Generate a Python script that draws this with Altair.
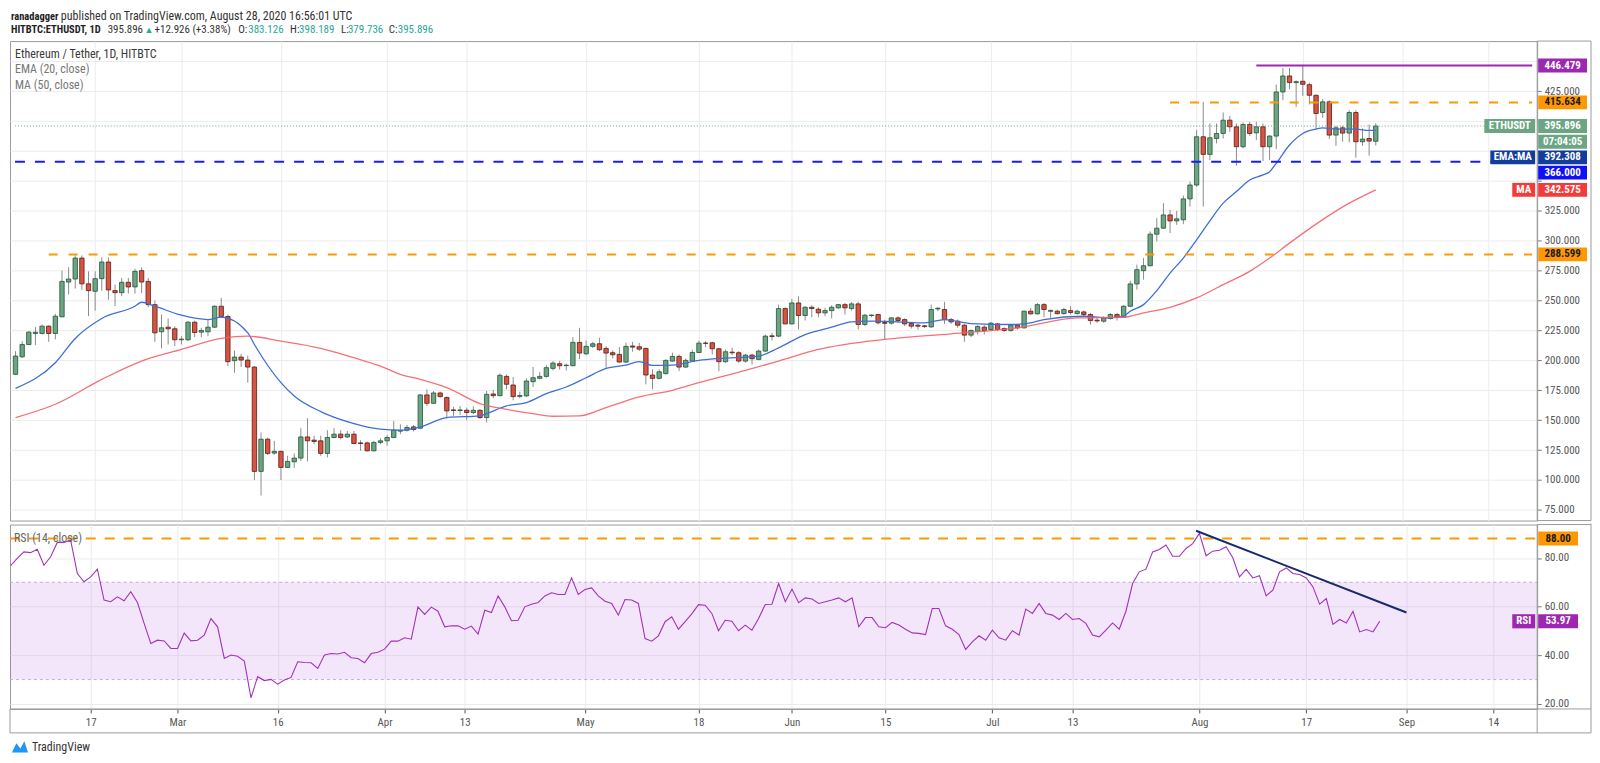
import altair as alt
import pandas as pd

FONT = "Liberation Sans Narrow, Roboto Condensed, Arial Narrow, Roboto, sans-serif"

# ---------------- data ----------------
first_day = "2020-02-05"

opens = [
    188.3, 203.0, 213.3, 222.5, 222.5, 228.6, 222.5, 236.4, 265.5, 268.0, 285.5, 264.0, 257.75, 268.3, 282.2, 258.3, 256.6, 265.25, 261.4, 275.0, 266.0, 246.6, 223.9, 227.75, 226.4,
    217.2, 217.2, 231.9, 223.6, 223.9, 227.75, 245.25, 236.6, 199.7, 202.75, 200.25, 194.4, 107.2, 134.1, 122.5, 123.9, 110.5, 115.25, 118.3, 136.0, 133.3, 132.75, 122.2, 135.5, 138.3, 136.0, 138.3, 131.0, 131.0, 124.4, 131.4,
    132.75, 135.5, 140.8, 141.6, 144.4, 143.3, 171.1, 164.1, 172.75, 168.9, 158.6, 158.1, 158.3, 156.4, 158.3, 152.2, 171.9, 170.5, 186.6, 179.4, 169.9, 170.3, 182.2, 185.0, 186.6, 193.3, 197.2, 195.6, 195.5, 215.0,
    205.5, 211.7, 213.9, 210.0, 206.4, 205.0, 198.6, 212.0, 211.4, 210.0, 187.75, 185.0, 188.9, 199.4, 203.3, 194.4, 199.4, 206.6, 214.5, 214.7, 209.7, 198.9, 206.9, 206.4, 199.4, 204.4, 200.8, 207.75, 220.5, 220.25, 243.3,
    230.5, 248.0, 237.5, 244.4, 242.75, 239.7, 241.6, 243.9, 246.6, 243.3, 247.2, 230.0, 237.5, 238.3, 231.6, 231.1, 235.5, 234.1, 230.8, 229.4, 228.9, 228.0, 243.0, 242.5, 234.1, 232.75, 229.4, 221.1, 224.4, 227.75,
    225.8, 230.5, 226.6, 225.0, 229.4, 227.2, 241.1, 238.9, 246.6, 241.0, 241.1, 239.1, 241.6, 239.1, 240.5, 238.3, 233.6, 232.75, 235.0, 238.3, 236.1, 245.25, 263.9, 275.0, 279.1, 305.5, 310.5, 321.6, 316.6, 317.5, 335.0,
    346.6, 386.9, 372.2, 385.5, 389.7, 400.8, 395.25, 378.6, 397.2, 390.25, 395.25, 378.6, 387.5, 424.4, 437.75, 432.2, 433.3, 430.5, 421.6, 407.2, 416.1, 388.3, 394.4, 390.0, 407.2, 382.75, 385.5, 383.126,
]
highs = [
    207.7, 216.0, 224.4, 227.8, 230.0, 229.4, 238.9, 275.0, 277.8, 287.75, 287.75, 274.4, 274.4, 286.0, 286.0, 263.3, 268.9, 268.9, 276.6, 277.75, 268.9, 250.0, 238.3, 235.0, 228.6,
    220.25, 232.75, 233.3, 227.2, 234.0, 246.0, 252.2, 238.3, 208.3, 205.5, 204.1, 195.25, 139.7, 135.5, 132.75, 124.4, 120.25, 122.2, 143.3, 151.6, 137.0, 137.0, 141.6, 143.3, 141.6, 141.0, 141.0, 133.3, 132.2, 132.75, 135.0,
    137.75, 149.4, 146.6, 146.0, 146.0, 171.6, 175.8, 174.4, 173.9, 170.0, 161.1, 161.9, 160.5, 161.6, 159.1, 174.4, 175.25, 189.1, 188.3, 186.1, 173.9, 185.0, 194.4, 190.3, 196.1, 199.4, 199.4, 197.2, 219.4, 227.2,
    216.6, 215.5, 218.9, 211.9, 208.3, 211.1, 214.7, 215.5, 214.7, 210.5, 192.5, 192.5, 200.8, 206.4, 205.0, 201.6, 208.9, 216.6, 216.1, 215.5, 210.5, 209.0, 210.5, 207.75, 205.5, 205.5, 209.1, 221.6, 223.0, 246.6, 244.4,
    251.4, 253.6, 245.25, 246.1, 244.4, 243.9, 246.1, 247.2, 248.0, 248.9, 248.9, 238.9, 238.3, 238.9, 234.0, 236.1, 236.9, 235.0, 231.4, 230.5, 229.6, 246.6, 244.4, 248.9, 235.5, 234.1, 230.5, 225.8, 229.4, 229.4,
    232.2, 231.4, 227.7, 230.5, 230.5, 241.6, 243.9, 248.0, 248.0, 242.5, 242.5, 243.9, 245.25, 242.5, 241.6, 239.7, 235.5, 236.9, 239.7, 239.7, 246.1, 266.6, 280.0, 285.5, 307.75, 318.9, 331.4, 325.8, 325.0, 337.75, 349.4,
    392.5, 416.1, 398.0, 398.0, 407.2, 404.4, 398.0, 398.9, 399.4, 399.4, 398.0, 388.3, 430.5, 444.4, 444.4, 434.1, 446.479, 432.2, 422.2, 418.3, 417.5, 396.1, 396.1, 409.1, 409.1, 393.9, 397.2, 398.189,
]
lows = [
    187.7, 202.0, 212.7, 212.7, 221.6, 215.5, 217.5, 236.0, 255.0, 260.0, 259.0, 237.0, 241.6, 258.3, 250.8, 245.3, 253.6, 255.8, 255.8, 256.4, 244.4, 215.5, 210.0, 213.3, 212.0,
    213.3, 216.0, 219.4, 219.4, 220.25, 227.2, 235.5, 195.25, 189.7, 194.4, 181.4, 100.0, 87.0, 121.0, 121.0, 100.0, 110.0, 110.0, 116.0, 115.5, 130.0, 120.25, 118.9, 135.0, 134.0, 135.0, 130.0, 124.4, 123.9, 123.9, 130.0,
    128.6, 135.0, 138.3, 140.5, 140.5, 142.8, 161.9, 163.9, 168.9, 151.6, 153.6, 154.4, 150.0, 155.0, 151.1, 148.0, 168.3, 170.0, 175.8, 166.6, 168.3, 169.4, 177.75, 184.1, 185.5, 191.6, 192.2, 191.6, 195.3, 201.1,
    204.4, 210.5, 207.75, 193.9, 201.6, 198.0, 197.75, 207.2, 207.75, 180.0, 175.8, 184.1, 188.3, 198.9, 191.1, 193.9, 198.9, 206.1, 211.0, 205.0, 191.0, 198.0, 204.4, 198.0, 198.0, 196.6, 200.0, 207.2, 216.6, 219.4, 230.0,
    230.0, 225.8, 233.3, 236.1, 236.1, 236.9, 235.0, 243.3, 238.3, 241.6, 225.8, 228.6, 236.1, 230.0, 217.5, 230.0, 231.4, 228.6, 226.6, 225.8, 227.0, 227.2, 241.1, 230.5, 230.5, 227.2, 215.5, 219.4, 221.6, 221.6,
    225.0, 224.4, 223.9, 223.9, 225.8, 226.6, 238.3, 238.3, 236.1, 235.5, 238.3, 238.3, 238.3, 238.3, 236.9, 230.0, 231.4, 231.4, 234.1, 233.3, 235.5, 244.4, 259.1, 267.5, 278.6, 299.4, 310.0, 306.4, 313.3, 313.9, 328.6,
    345.0, 328.6, 367.5, 381.4, 385.5, 391.1, 362.75, 377.2, 387.75, 384.1, 366.6, 367.5, 376.6, 417.5, 426.6, 411.9, 421.1, 413.9, 393.3, 402.75, 385.0, 379.4, 382.75, 382.2, 369.4, 379.4, 371.1, 379.736,
]
closes = [
    203.6, 213.3, 223.6, 223.5, 228.6, 222.5, 236.9, 266.0, 268.0, 285.5, 264.0, 258.3, 268.3, 282.2, 258.9, 256.6, 265.25, 261.4, 274.4, 265.5, 246.6, 223.0, 227.2, 226.4, 217.2,
    217.75, 231.9, 223.3, 225.0, 227.75, 245.25, 236.6, 198.9, 202.75, 200.25, 194.4, 107.2, 134.1, 122.2, 123.9, 110.5, 115.5, 118.3, 136.0, 132.75, 132.2, 122.2, 135.5, 138.3, 135.5, 138.3, 130.5, 130.5, 124.4, 131.4, 132.75,
    135.5, 141.6, 141.4, 143.9, 142.2, 171.1, 164.1, 172.75, 169.7, 157.75, 158.1, 158.6, 156.4, 158.3, 152.2, 171.6, 170.5, 187.5, 180.0, 169.7, 170.6, 182.75, 185.5, 186.6, 193.9, 197.75, 195.5, 196.0, 215.0, 206.1,
    211.7, 213.9, 208.9, 206.1, 204.7, 198.6, 211.7, 211.1, 209.4, 187.75, 185.0, 190.5, 200.0, 203.3, 194.4, 200.0, 206.6, 214.4, 214.2, 209.7, 198.9, 207.2, 206.4, 199.4, 204.4, 201.4, 207.75, 220.25, 220.0, 243.3, 230.5,
    248.0, 237.5, 244.4, 243.3, 239.7, 241.6, 244.4, 246.6, 243.9, 247.2, 230.0, 237.75, 237.9, 231.4, 231.0, 235.5, 233.3, 230.5, 228.6, 228.6, 228.3, 242.5, 243.6, 234.1, 232.2, 229.4, 221.1, 225.0, 228.3, 225.0,
    231.1, 225.8, 225.0, 229.4, 227.2, 241.1, 238.9, 246.6, 242.5, 241.8, 239.1, 242.5, 240.0, 241.1, 238.3, 233.3, 233.0, 235.5, 238.3, 236.1, 245.25, 263.9, 275.8, 279.1, 305.5, 310.5, 321.6, 316.6, 318.3, 335.0, 346.6,
    386.9, 372.2, 386.1, 389.7, 400.8, 395.25, 378.6, 397.2, 389.7, 395.25, 378.6, 387.5, 424.4, 437.75, 432.2, 433.0, 430.8, 421.6, 406.4, 416.1, 388.3, 394.4, 390.0, 407.2, 382.75, 385.0, 383.3, 395.896,
]
rsi_values = [
    76.8, 79.8, 82.5, 82.2, 83.6, 77.0, 80.5, 86.4, 86.4, 87.3, 73.6, 70.2, 72.2, 75.4, 62.7, 62.0, 64.0, 62.4, 66.1, 61.7, 53.1, 44.8, 46.2, 45.9, 42.8,
    42.8, 49.1, 45.9, 46.2, 48.3, 55.1, 51.7, 38.7, 40.1, 39.6, 37.6, 22.5, 31.2, 29.6, 30.1, 28.1, 29.8, 30.9, 37.3, 37.0, 36.9, 34.6, 40.1, 40.7, 40.5, 41.2, 39.0, 38.7, 36.9, 40.7, 41.2,
    42.5, 45.8, 45.8, 47.2, 46.6, 59.9, 56.8, 59.8, 58.1, 51.7, 52.1, 52.1, 50.7, 52.0, 48.7, 58.5, 57.6, 64.4, 59.9, 54.2, 54.4, 59.9, 61.0, 61.7, 64.4, 65.7, 65.0, 65.0, 71.8, 65.0,
    67.0, 67.7, 64.4, 62.2, 61.3, 56.5, 62.9, 62.7, 61.3, 46.9, 45.8, 48.0, 53.8, 55.8, 50.7, 53.8, 57.0, 60.8, 60.6, 57.2, 50.1, 54.4, 54.0, 50.1, 52.4, 50.3, 55.1, 60.9, 61.0, 69.5, 62.0,
    67.2, 61.6, 63.6, 63.1, 61.3, 62.0, 62.7, 63.6, 62.0, 63.6, 51.7, 55.5, 55.5, 51.7, 51.3, 53.5, 52.4, 50.7, 49.2, 49.0, 48.5, 59.2, 59.2, 52.1, 50.7, 48.5, 42.4, 45.5, 48.0, 46.2,
    50.3, 47.2, 46.2, 50.1, 48.3, 59.0, 57.2, 61.3, 57.2, 56.5, 54.7, 57.2, 54.7, 55.1, 53.1, 48.3, 47.6, 50.3, 53.3, 50.7, 58.1, 69.5, 74.3, 75.4, 82.5, 83.5, 85.3, 80.7, 80.7, 83.9, 85.9,
    90.1, 80.9, 82.8, 83.2, 84.6, 80.1, 72.2, 75.3, 71.8, 72.7, 64.4, 66.8, 74.3, 75.9, 73.6, 73.2, 71.8, 68.1, 61.0, 63.3, 52.7, 54.7, 53.3, 58.1, 49.6, 50.6, 49.6, 53.97,
]

ema_dates = ["2020-02-05", "2020-02-11", "2020-02-14", "2020-02-18", "2020-02-23", "2020-02-24", "2020-02-26", "2020-03-01", "2020-03-05", "2020-03-07",
             "2020-03-11", "2020-03-12", "2020-03-16", "2020-03-18", "2020-03-22", "2020-03-27", "2020-03-31", "2020-04-03", "2020-04-06", "2020-04-10",
             "2020-04-15", "2020-04-16", "2020-04-19", "2020-04-22", "2020-04-25", "2020-04-28", "2020-05-01", "2020-05-04", "2020-05-07", "2020-05-09",
             "2020-05-11", "2020-05-14", "2020-05-18", "2020-05-21", "2020-05-27", "2020-05-30", "2020-06-03", "2020-06-07", "2020-06-10", "2020-06-13",
             "2020-06-17", "2020-06-21", "2020-06-24", "2020-06-28", "2020-07-04", "2020-07-06", "2020-07-09", "2020-07-15", "2020-07-19", "2020-07-21",
             "2020-07-22", "2020-07-24", "2020-07-26", "2020-07-28", "2020-07-30", "2020-08-01", "2020-08-03", "2020-08-05", "2020-08-07", "2020-08-09",
             "2020-08-11", "2020-08-12", "2020-08-13", "2020-08-15", "2020-08-17", "2020-08-19", "2020-08-20", "2020-08-22", "2020-08-25", "2020-08-27", "2020-08-28"]
ema_values = [176.6, 198.0, 218.3, 235.0, 245.25, 248.6, 245.25, 237.75, 234.1, 236.1,
              223.0, 213.3, 181.4, 170.25, 157.2, 147.2, 142.5, 141.6, 144.4, 152.2,
              153.6, 155.5, 161.9, 164.7, 172.2, 177.75, 185.5, 193.3, 196.1, 198.9,
              195.8, 196.1, 200.0, 201.6, 203.6, 210.5, 221.6, 227.75, 232.2, 232.75,
              232.2, 231.4, 234.1, 230.8, 230.0, 230.5, 234.1, 236.9, 235.5, 236.9,
              241.1, 246.6, 258.3, 273.0, 285.5, 300.8, 316.6, 331.4, 341.1, 350.8,
              355.0, 357.75, 364.7, 380.0, 389.7, 393.3, 394.4, 393.3, 393.3, 392.2, 392.308]

ma_dates = ["2020-02-05", "2020-02-11", "2020-02-18", "2020-02-24", "2020-03-01", "2020-03-07", "2020-03-11", "2020-03-16", "2020-03-22", "2020-03-27",
            "2020-03-31", "2020-04-03", "2020-04-06", "2020-04-10", "2020-04-15", "2020-04-19", "2020-04-23", "2020-04-26", "2020-04-30", "2020-05-04",
            "2020-05-09", "2020-05-14", "2020-05-18", "2020-05-25", "2020-05-30", "2020-06-05", "2020-06-15", "2020-06-25", "2020-07-05", "2020-07-14",
            "2020-07-21", "2020-07-24", "2020-07-28", "2020-08-01", "2020-08-05", "2020-08-09", "2020-08-12", "2020-08-15", "2020-08-19", "2020-08-24", "2020-08-28"]
ma_values = [152.2, 163.3, 184.1, 199.4, 209.1, 218.3, 220.25, 216.1, 210.0, 202.2,
             195.25, 188.3, 184.1, 177.2, 163.9, 159.1, 155.5, 153.3, 153.6, 160.5,
             169.4, 175.0, 181.4, 191.6, 199.4, 209.1, 217.5, 222.2, 227.2, 235.5,
             236.1, 239.7, 244.4, 252.2, 263.3, 274.4, 285.5, 298.0, 313.9, 331.4, 342.575]

x_tick_dates = ["2020-02-17", "2020-03-01", "2020-03-16", "2020-04-01", "2020-04-13", "2020-05-01", "2020-05-18",
                "2020-06-01", "2020-06-15", "2020-07-01", "2020-07-13", "2020-08-01", "2020-08-17", "2020-09-01", "2020-09-14"]
price_ticks = [75, 100, 125, 150, 175, 200, 225, 250, 275, 300, 325, 350, 375, 400, 425, 450]
hidden_price_labels = [350, 375, 400, 450]   # covered by the coloured price tags
rsi_ticks = [20, 40, 60, 80]

resistance_high = 446.479
resistance_high_from = "2020-08-10"
resistance_mid = 415.634
resistance_mid_from = "2020-07-28"
support_level = 366.0
support_low = 288.599
support_low_from = "2020-02-10"
last_price = 395.896
ema_last = 392.308
ma_last = 342.575
rsi_last = 53.97
rsi_top_level = 88
rsi_band = [30, 70]
trend_dates = ["2020-07-31T12:00", "2020-09-01T00:00"]
trend_values = [91.2, 57.6]

# ---------------- helpers ----------------
def ms(s):
    return int(pd.Timestamp(s, tz="UTC").value // 1_000_000)

W = 1532
H1 = 481
H2 = 185
PX_PER_DAY = 6.7
T0 = ms("2020-02-04T22:00")
T1 = T0 + int(W / PX_PER_DAY * 86400000)
P_HI = 466.92
P_LO = P_HI - H1 / 1.2
R_HI = 93.74
R_LO = R_HI - H2 / 2.44

n = len(opens)
t_days = [ms(first_day) + i * 86400000 for i in range(n)]
cdf = pd.DataFrame({"t": t_days, "open": opens, "high": highs, "low": lows, "close": closes})
cdf["dir"] = ["up" if c >= o else "down" for o, c in zip(opens, closes)]
rdf = pd.DataFrame({"t": t_days, "rsi": rsi_values})
ema_df = pd.DataFrame({"t": [ms(d) for d in ema_dates], "v": ema_values})
ma_df = pd.DataFrame({"t": [ms(d) for d in ma_dates], "v": ma_values})
tick_ms = [ms(d) for d in x_tick_dates]
one = pd.DataFrame({"k": [0]})

GRID = "#ececec"
FRAME = "#9b9b9b"

xs = alt.Scale(type="utc", domain=[T0, T1])
ys = alt.Scale(domain=[P_LO, P_HI], nice=False, zero=False)
rs = alt.Scale(domain=[R_LO, R_HI], nice=False, zero=False)

hidden_expr = "indexof([" + ",".join(str(v) for v in hidden_price_labels) + "], datum.value) >= 0 ? '' : format(datum.value, '.3f')"

x_axis_top = alt.Axis(values=tick_ms, grid=True, gridColor=GRID, labels=False, ticks=False, domain=False, title=None)
x_axis_bot = alt.Axis(values=tick_ms, grid=True, gridColor=GRID, title=None, domain=False, tickSize=4, tickColor="#555",
                      labelExpr="utcdate(datum.value) == 1 ? utcFormat(datum.value, '%b') : utcFormat(datum.value, '%-d')",
                      labelFont=FONT, labelFontSize=11, labelColor="#555", labelPadding=4)
y_axis_price = alt.Axis(orient="right", values=price_ticks, labelExpr=hidden_expr, title=None, grid=True, gridColor=GRID,
                        tickSize=4, tickColor="#777", domain=False, labelFont=FONT, labelFontSize=11,
                        labelColor="#555", labelPadding=3)
y_axis_rsi = alt.Axis(orient="right", values=rsi_ticks, format=".2f", title=None, grid=True, gridColor=GRID,
                      tickSize=4, tickColor="#777", domain=False, labelFont=FONT, labelFontSize=11,
                      labelColor="#555", labelPadding=3)


def XP(f):
    return alt.X(f, type="temporal", scale=xs, axis=x_axis_top)


def YP(f):
    return alt.Y(f, type="quantitative", scale=ys, axis=y_axis_price)


def XR(f):
    return alt.X(f, type="temporal", scale=xs, axis=x_axis_bot)


def YR(f):
    return alt.Y(f, type="quantitative", scale=rs, axis=y_axis_rsi)


def text(t, x, y, color="#333", size=12, weight="normal", align="left", baseline="middle"):
    return alt.Chart(one).mark_text(text=t, font=FONT, fontSize=size, fontWeight=weight, align=align,
                                    baseline=baseline, color=color).encode(x=alt.value(x), y=alt.value(y))


def prule(x, x2, y, y2, color=FRAME, w=1):
    return alt.Chart(one).mark_rule(color=color, strokeWidth=w).encode(
        x=alt.value(x), x2=alt.value(x2), y=alt.value(y), y2=alt.value(y2))


def hline(value, start, color, dash=None, width=2, yfun=YP):
    df = pd.DataFrame({"v": [value], "a": [start], "b": [T1]})
    kw = dict(color=color, strokeWidth=width)
    if dash:
        kw["strokeDash"] = dash
    return alt.Chart(df).mark_rule(**kw).encode(x=(XP if yfun is YP else XR)("a"), x2="b", y=yfun("v"))


def box(value_pos, label, fill, tcolor, x0, x1, yfun=YP, half=5.8):
    df = pd.DataFrame({"pos": [value_pos], "lab": [label]})
    base = alt.Chart(df).transform_calculate(top=f"datum.pos + {half}", bot=f"datum.pos - {half}")
    r = base.mark_rect(color=fill).encode(x=alt.value(x0), x2=alt.value(x1), y=yfun("top"), y2="bot")
    t = base.mark_text(font=FONT, fontSize=11, fontWeight="bold", color=tcolor, align="center",
                       baseline="middle").encode(x=alt.value((x0 + x1) / 2), y=yfun("pos"), text="lab:N")
    return r + t


# ---------------- price pane ----------------
candles = alt.Chart(cdf)
wicks = candles.mark_rule(color="#8c8c8c", strokeWidth=1, clip=True).encode(x=XP("t"), y=YP("low"), y2="high")
bodies = candles.mark_bar(size=4.4, strokeWidth=0.8, clip=True).encode(
    x=XP("t"), y=YP("open"), y2="close",
    fill=alt.Fill("dir:N", scale=alt.Scale(domain=["up", "down"], range=["#6ba583", "#d75442"]), legend=None),
    stroke=alt.Stroke("dir:N", scale=alt.Scale(domain=["up", "down"], range=["#225437", "#5b1a13"]), legend=None),
)
ema_line = alt.Chart(ema_df).mark_line(color="#3f6fd6", strokeWidth=1.3, interpolate="monotone", clip=True).encode(
    x=XP("t"), y=YP("v"))
ma_line = alt.Chart(ma_df).mark_line(color="#f4616a", strokeWidth=1.3, opacity=0.9, interpolate="monotone",
                                     clip=True).encode(x=XP("t"), y=YP("v"))

price_line = hline(last_price, T0, "#6ba583", dash=[1, 2], width=1)
l_purple = hline(resistance_high, ms(resistance_high_from), "#9c27b0", width=2)
l_orange1 = hline(resistance_mid, ms(resistance_mid_from), "#ff9800", dash=[9, 11], width=2)
l_blue = hline(support_level, T0, "#1a1aff", dash=[10, 10], width=2)
l_orange2 = hline(support_low, ms(support_low_from), "#ff9800", dash=[9, 11], width=2)

VX0, VX1 = W + 1, W + 50
labels_price = (
    box(resistance_high, f"{resistance_high:.3f}", "#9c27b0", "white", VX0, VX1)
    + box(resistance_mid, f"{resistance_mid:.3f}", "#ff9800", "#1a1a1a", VX0, VX1)
    + box(last_price, f"{last_price:.3f}", "#6ba583", "white", VX0, VX1)
    + box(last_price, "ETHUSDT", "#6ba583", "white", W - 53, W - 2)
    + box(382.75, "07:04:05", "#6ba583", "white", VX0, VX1)
    + box(369.7, f"{ema_last:.3f}", "#133d9a", "white", VX0, VX1)
    + box(369.7, "EMA:MA", "#133d9a", "white", W - 47, W - 2)
    + box(357.0, f"{support_level:.3f}", "#1010f5", "white", VX0, VX1)
    + box(ma_last, f"{ma_last:.3f}", "#f23b3b", "white", VX0, VX1)
    + box(ma_last, "MA", "#f23b3b", "white", W - 25, W - 2)
    + box(support_low, f"{support_low:.3f}", "#ff9800", "#1a1a1a", VX0, VX1)
)

header = (
    text("ranadagger", 1, -21, "#222", 10.5, "bold", baseline="alphabetic")
    + text("published on TradingView.com, August 28, 2020 16:56:01 UTC", 51, -21, "#333", 12, baseline="alphabetic")
    + text("HITBTC:ETHUSDT, 1D", 1, -8, "#222", 10.5, "bold", baseline="alphabetic")
    + text("395.896", 98, -8, "#333", 11, baseline="alphabetic")
    + text("▲", 135, -8, "#26a69a", 9, baseline="alphabetic")
    + text("+12.926 (+3.38%)", 145, -8, "#333", 11, baseline="alphabetic")
    + text("O:", 229, -8, "#333", 11, baseline="alphabetic")
    + text("383.126", 239, -8, "#26a69a", 11, baseline="alphabetic")
    + text("H:", 281, -8, "#333", 11, baseline="alphabetic")
    + text("398.189", 290, -8, "#26a69a", 11, baseline="alphabetic")
    + text("L:", 332, -8, "#333", 11, baseline="alphabetic")
    + text("379.736", 339, -8, "#26a69a", 11, baseline="alphabetic")
    + text("C:", 380, -8, "#333", 11, baseline="alphabetic")
    + text("395.896", 389, -8, "#26a69a", 11, baseline="alphabetic")
    + text("Ethereum / Tether, 1D, HITBTC", 5, 13, "#3b3b3b", 12)
    + text("EMA (20, close)", 5, 28.5, "#777", 12)
    + text("MA (50, close)", 5, 44, "#777", 12)
)

frame_top = (
    prule(W, W + 54, 0, 0)
    + prule(W + 54, W + 54, 0, H1)
    + prule(W, W, 0, H1)
    + prule(W, W + 54, H1, H1)
)

price = alt.layer(
    wicks, bodies, ema_line, ma_line, price_line, l_purple, l_orange1, l_blue, l_orange2,
    labels_price, header, frame_top,
).properties(width=W, height=H1)

# ---------------- RSI pane ----------------
band = alt.Chart(pd.DataFrame({"lo": [rsi_band[0]], "hi": [rsi_band[1]], "a": [T0], "b": [T1]})).mark_rect(
    color="#9b30e0", opacity=0.12).encode(x=XR("a"), x2="b", y=YR("lo"), y2="hi")
band_lines = alt.Chart(pd.DataFrame({"v": rsi_band, "a": [T0, T0], "b": [T1, T1]})).mark_rule(
    color="#c6a9d2", strokeDash=[3, 3], strokeWidth=1).encode(x=XR("a"), x2="b", y=YR("v"))
r88 = hline(rsi_top_level, T0, "#ff9800", dash=[10, 9], width=2, yfun=YR)
rsi_line = alt.Chart(rdf).mark_line(color="#a233b8", strokeWidth=1.1, clip=True).encode(x=XR("t"), y=YR("rsi"))
trend = alt.Chart(pd.DataFrame({"t": [ms(d) for d in trend_dates], "v": trend_values})).mark_line(
    color="#172a6e", strokeWidth=2).encode(x=XR("t"), y=YR("v"))

RX1 = W + 41
labels_rsi = (
    box(rsi_top_level, f"{rsi_top_level:.2f}", "#ff9800", "#1a1a1a", VX0, RX1, yfun=YR, half=2.9)
    + box(rsi_last, f"{rsi_last:.2f}", "#9c27b0", "white", VX0, RX1, yfun=YR, half=2.9)
    + box(rsi_last, "RSI", "#9c27b0", "white", W - 25, W - 2, yfun=YR, half=2.9)
)
rsi_title = text("RSI (14, close)", 4, 14, "#666", 12)

frame_bot = (
    prule(W, W + 54, 0, 0)
    + prule(W + 54, W + 54, -1, H2 + 24)
    + prule(W, W, 0, H2 + 24)
    + prule(0, W + 54, H2, H2)
    + prule(0, W + 54, H2 + 24, H2 + 24)
    + prule(0, 0, H2, H2 + 24)
)
logo = (
    alt.Chart(one).mark_point(shape="M-1,0.7 L-0.45,-0.45 L0.05,0.2 L0.55,-0.7 L1,0.7 Z", filled=True,
                              color="#2196f3", size=260, opacity=1).encode(x=alt.value(10), y=alt.value(223))
    + text("TradingView", 22, 223, "#333", 12)
)

rsi = alt.layer(band, band_lines, r88, rsi_line, trend, labels_rsi, rsi_title, frame_bot, logo).properties(
    width=W, height=H2)

chart = alt.vconcat(price, rsi, spacing=1).properties(padding=0, background="white").configure_view(
    stroke=FRAME, strokeWidth=1)

chart.save("out.html", embed_options={"renderer": "svg", "actions": False})
